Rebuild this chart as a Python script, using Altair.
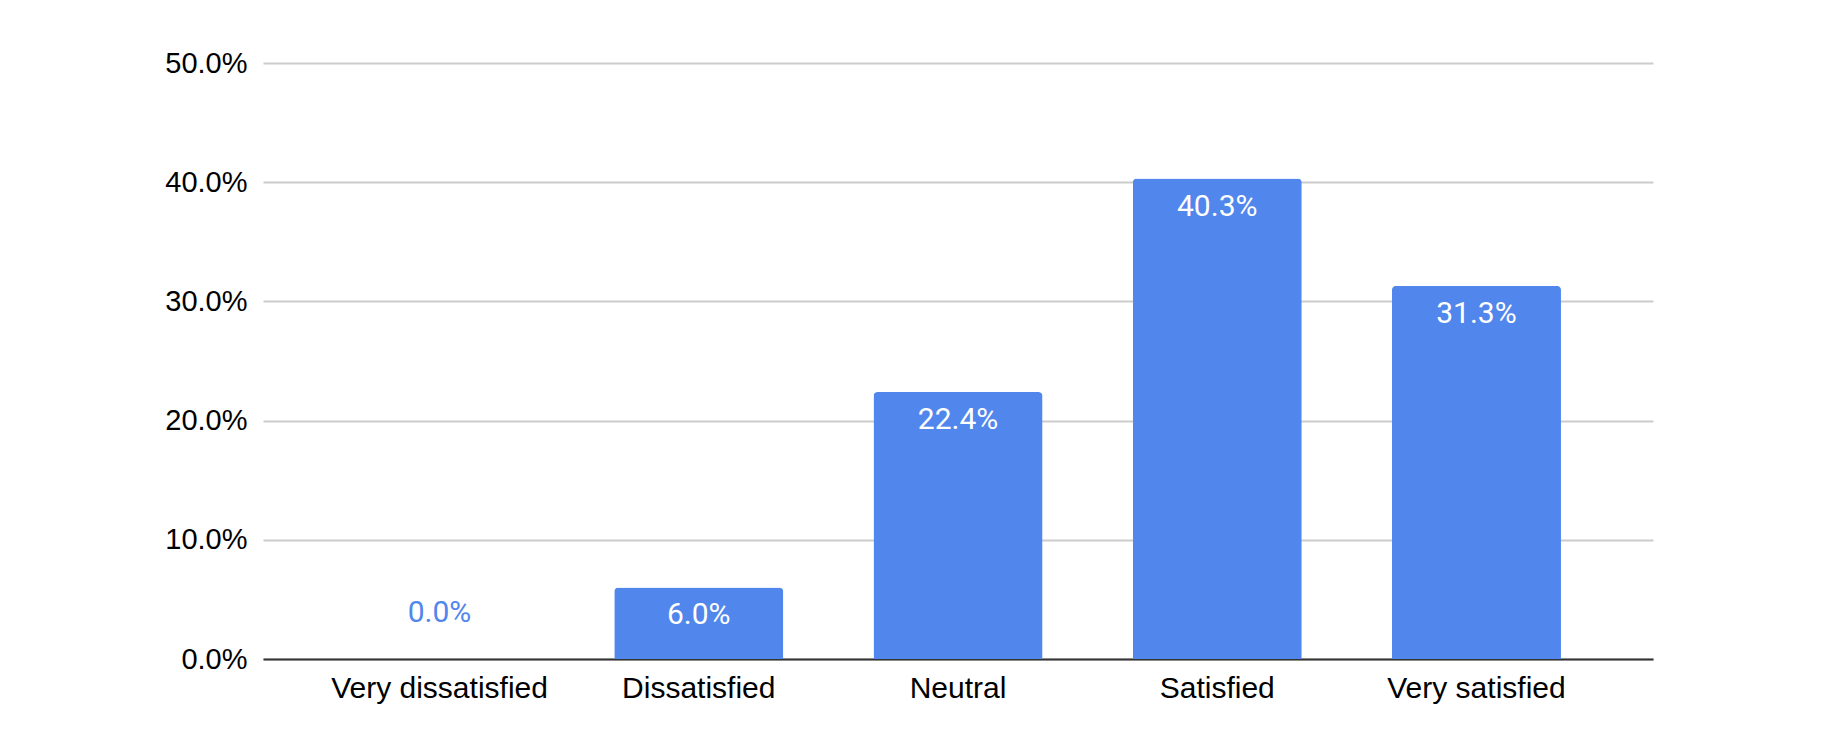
import altair as alt
import pandas as pd

categories = ["Very dissatisfied", "Dissatisfied", "Neutral", "Satisfied", "Very satisfied"]
shares = [0.000, 0.060, 0.224, 0.403, 0.313]

df = pd.DataFrame({"category": categories, "share": shares})

BLUE = "#5186EC"

x_enc = alt.X(
    "category:N",
    sort=categories,
    title=None,
    scale=alt.Scale(paddingInner=0.348, paddingOuter=0.355),
    axis=alt.Axis(
        labelAngle=0,
        labelFont="Liberation Sans",
        labelFontSize=30,
        labelColor="#000000",
        labelPadding=14,
        labelLimit=0,
        ticks=False,
        domainColor="#333333",
        domainWidth=2,
        grid=False,
    ),
)
y_enc = alt.Y(
    "share:Q",
    title=None,
    scale=alt.Scale(domain=[0, 0.5], nice=False),
    axis=alt.Axis(
        values=[0, 0.1, 0.2, 0.3, 0.4, 0.5],
        format=".1%",
        labelFont="Liberation Sans",
        labelFontSize=29,
        labelColor="#000000",
        labelPadding=16,
        ticks=False,
        domain=False,
        gridColor="#cccccc",
        gridWidth=2,
    ),
)

bars = alt.Chart(df).mark_bar(
    color=BLUE, cornerRadiusTopLeft=4, cornerRadiusTopRight=4
).encode(x=x_enc, y=y_enc)

inside = alt.Chart(df).transform_filter("datum.share > 0.02").mark_text(
    font="Roboto", fontSize=30, color="white", baseline="middle", align="center", dy=28
).encode(
    x=alt.X("category:N", sort=categories),
    y=alt.Y("share:Q"),
    text=alt.Text("share:Q", format=".1%"),
)

outside = alt.Chart(df).transform_filter("datum.share <= 0.02").mark_text(
    font="Roboto", fontSize=30, color=BLUE, baseline="middle", align="center", dy=-46
).encode(
    x=alt.X("category:N", sort=categories),
    y=alt.Y("share:Q"),
    text=alt.Text("share:Q", format=".1%"),
)

chart = (
    alt.layer(bars, inside, outside)
    .properties(
        width=1390,
        height=596,
        autosize=alt.AutoSizeParams(type="none"),
        padding={"left": 255, "top": 55, "right": 170, "bottom": 70},
        background="white",
    )
    .configure_view(stroke=None)
)

chart.save("out.html", embed_options={"renderer": "svg", "actions": False})
